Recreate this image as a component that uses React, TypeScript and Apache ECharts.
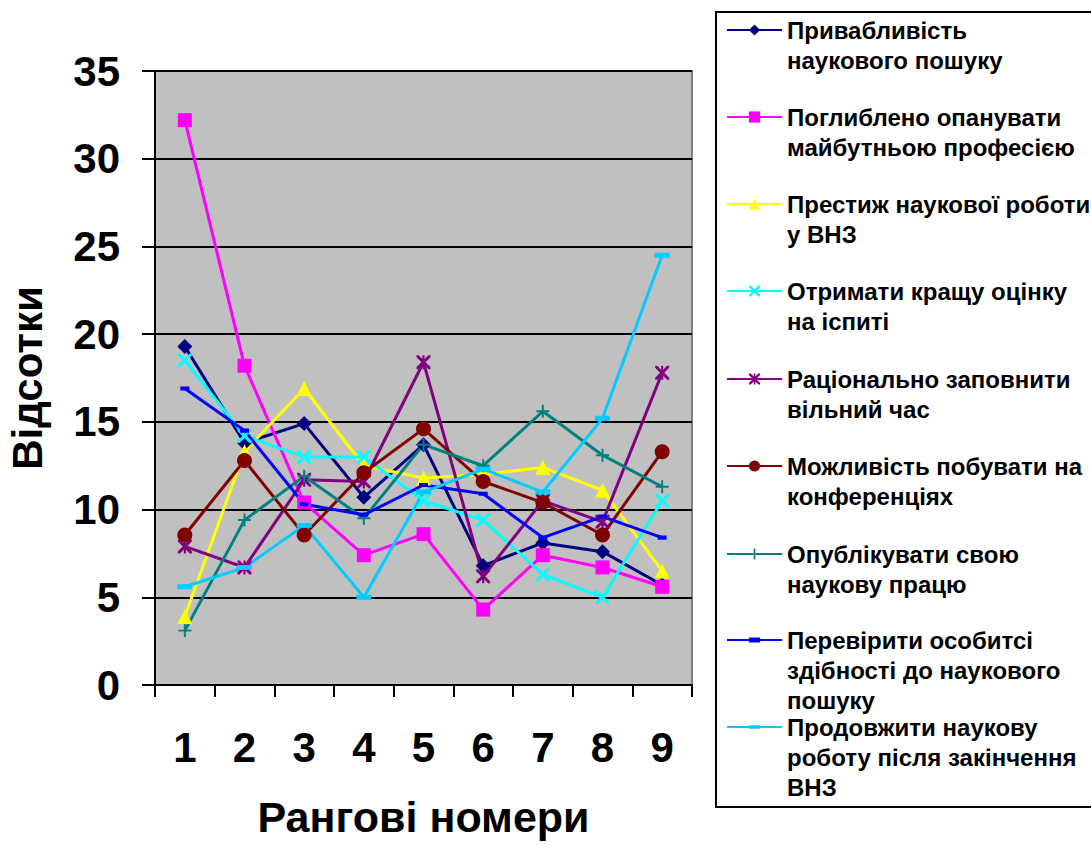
import React, { useEffect, useRef } from "react";
import * as echarts from "echarts";

const categories = ["1", "2", "3", "4", "5", "6", "7", "8", "9"];

const seriesNames = [
  "Привабливість наукового пошуку",
  "Поглиблено опанувати майбутньою професією",
  "Престиж наукової роботи у ВНЗ",
  "Отримати кращу оцінку на іспиті",
  "Раціонально заповнити вільний час",
  "Можливість побувати на конференціях",
  "Опублікувати свою наукову працю",
  "Перевірити особитсі здібності до наукового пошуку",
  "Продовжити наукову роботу після закінчення ВНЗ",
];

const legendLines = [
  ["Привабливість", "наукового пошуку"],
  ["Поглиблено опанувати", "майбутньою професією"],
  ["Престиж наукової роботи", "у ВНЗ"],
  ["Отримати кращу оцінку", "на іспиті"],
  ["Раціонально заповнити", "вільний час"],
  ["Можливість побувати на", "конференціях"],
  ["Опублікувати свою", "наукову працю"],
  ["Перевірити особитсі", "здібності до наукового", "пошуку"],
  ["Продовжити наукову", "роботу після закінчення", "ВНЗ"],
];

const s1 = [19.3, 13.8, 14.9, 10.7, 13.7, 6.8, 8.1, 7.6, 5.7];
const s2 = [32.2, 18.2, 10.4, 7.4, 8.6, 4.3, 7.4, 6.7, 5.6];
const s3 = [3.9, 13.3, 16.9, 12.5, 11.8, 12.0, 12.4, 11.1, 6.5];
const s4 = [18.5, 14.2, 13.0, 13.0, 10.5, 9.4, 6.3, 5.0, 10.5];
const s5 = [7.9, 6.7, 11.7, 11.6, 18.4, 6.2, 10.5, 9.3, 17.8];
const s6 = [8.55, 12.8, 8.55, 12.1, 14.6, 11.6, 10.4, 8.55, 13.3];
const s7 = [3.1, 9.4, 11.9, 9.5, 13.7, 12.5, 15.6, 13.1, 11.3];
const s8 = [16.9, 14.5, 10.3, 9.7, 11.4, 10.9, 8.4, 9.6, 8.4];
const s9 = [5.6, 6.7, 9.1, 5.0, 11.0, 12.3, 11.0, 15.2, 24.5];

const allValues = [s1, s2, s3, s4, s5, s6, s7, s8, s9];

const colors = [
  "#000080",
  "#FF00FF",
  "#FFFF00",
  "#00FFFF",
  "#800080",
  "#800000",
  "#008080",
  "#0000FF",
  "#00CCFF",
];

const yTicks = { min: 0, max: 35, interval: 5 };

const X_PATH =
  "path://M0,0 L3,0 L10,7 L17,0 L20,0 L20,3 L13,10 L20,17 L20,20 L17,20 L10,13 L3,20 L0,20 L0,17 L7,10 L0,3 Z";
const STAR_PATH =
  "path://M0,0 L3,0 L10,7 L17,0 L20,0 L20,3 L13,10 L20,17 L20,20 L17,20 L10,13 L3,20 L0,20 L0,17 L7,10 L0,3 Z M8.5,0 L11.5,0 L11.5,20 L8.5,20 Z";
const PLUS_PATH =
  "path://M8.5,0 H11.5 V8.5 H20 V11.5 H11.5 V20 H8.5 V11.5 H0 V8.5 H8.5 Z";
const DASH_SMALL =
  "path://M0,0 L0.01,0 L0,0.01 Z M20,20 L19.99,20 L20,19.99 Z M0,5.5 H20 V14.5 H0 Z";
const DASH_BIG =
  "path://M0,0 L0.01,0 L0,0.01 Z M20,20 L19.99,20 L20,19.99 Z M0,6.7 H20 V13.3 H0 Z";

const symbols = ["diamond", "rect", "triangle", X_PATH, STAR_PATH, "circle", PLUS_PATH, DASH_SMALL, DASH_BIG];
const symbolSizes = [15, 14, 15, 14, 14, 15, 13, 9, 15];

const legendIconY = [30, 117, 204, 291, 379, 466, 554, 640, 727];

const FONT = "'Liberation Sans', Arial, sans-serif";

export default function App() {
  const ref = useRef<HTMLDivElement>(null);

  useEffect(() => {
    if (!ref.current) return;
    const chart = echarts.init(ref.current, undefined, { renderer: "svg" });
    const LH = 30;

    const legends = seriesNames.map((name, i) => {
      const n = legendLines[i].length;
      return {
        data: [name],
        left: 726,
        top: legendIconY[i] - (2 * n - 1) * (LH / 2),
        orient: "vertical",
        padding: 0,
        itemWidth: 55,
        itemHeight: 14,
        selectedMode: false,
        formatter: () => "\n".repeat(n - 1) + legendLines[i].join("\n"),
        textStyle: {
          fontFamily: FONT,
          fontWeight: "bold",
          fontSize: 24,
          lineHeight: LH,
          color: "#000",
        },
      };
    });

    const option = {
      animation: false,
      backgroundColor: "#ffffff",
      grid: {
        left: 155,
        top: 71,
        right: 399,
        bottom: 160,
        outerBoundsMode: "none",
        containLabel: false,
        show: true,
        backgroundColor: "#C0C0C0",
        borderColor: "#808080",
        borderWidth: 2,
      },
      legend: legends,
      graphic: [
        {
          type: "rect",
          z: -1,
          shape: { x: 716, y: 12, width: 390, height: 795 },
          style: { fill: "#ffffff", stroke: "#000000", lineWidth: 2 },
        },
      ],
      xAxis: {
        type: "category",
        data: categories,
        boundaryGap: true,
        name: "Рангові номери",
        nameLocation: "middle",
        nameGap: 110,
        nameTextStyle: { fontFamily: FONT, fontWeight: "bold", fontSize: 43, color: "#000" },
        axisLine: { lineStyle: { color: "#000", width: 2 } },
        axisTick: { show: true, length: 12, lineStyle: { color: "#000", width: 2 }, alignWithLabel: false },
        axisLabel: { fontFamily: FONT, fontWeight: "bold", fontSize: 42, color: "#000", margin: 41 },
        splitLine: { show: false },
      },
      yAxis: {
        type: "value",
        min: yTicks.min,
        max: yTicks.max,
        interval: yTicks.interval,
        name: "Відсотки",
        nameLocation: "middle",
        nameGap: 107,
        nameTextStyle: { fontFamily: FONT, fontWeight: "bold", fontSize: 42, color: "#000" },
        axisLine: { show: true, lineStyle: { color: "#000", width: 2 } },
        axisTick: { show: true, length: 13, lineStyle: { color: "#000", width: 2 } },
        axisLabel: { fontFamily: FONT, fontWeight: "bold", fontSize: 42, color: "#000", margin: 35 },
        splitLine: { show: true, lineStyle: { color: "#000", width: 2 } },
      },
      series: allValues.map((vals, i) => ({
        type: "line",
        name: seriesNames[i],
        data: vals,
        symbol: symbols[i],
        symbolSize: symbolSizes[i],
        showAllSymbol: true,
        lineStyle: { color: colors[i], width: 3 },
        itemStyle: { color: colors[i], opacity: 1 },
        emphasis: { disabled: true },
      })),
    };

    chart.setOption(option as any);
    return () => chart.dispose();
  }, []);

  return (
    <div
      ref={ref}
      style={{ position: "absolute", left: 0, top: 0, width: 1091, height: 845 }}
    />
  );
}
